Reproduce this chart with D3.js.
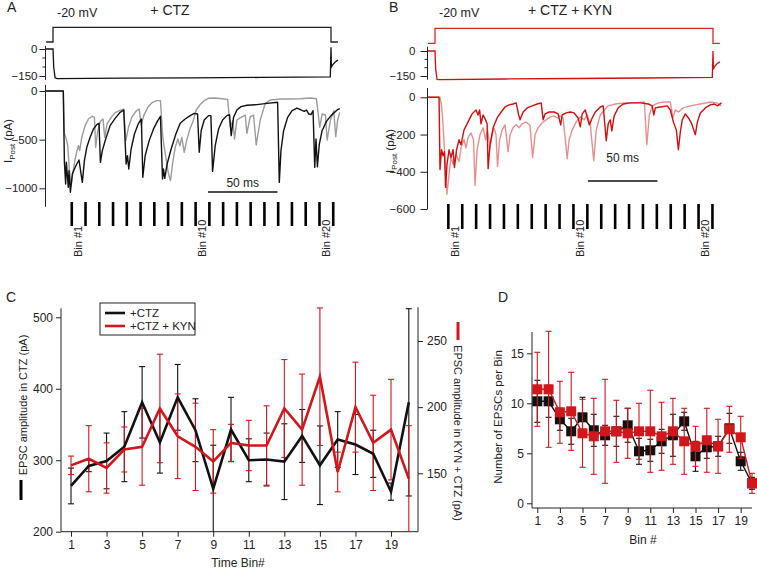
<!DOCTYPE html>
<html><head><meta charset="utf-8">
<script src="https://cdn.jsdelivr.net/npm/d3@7"></script>
<style>
body{margin:0;background:#fff}
text{font-family:"Liberation Sans",Arial,sans-serif;fill:#222}
</style>
</head><body>
<script>
// --- data ---------------------------------------------------------------

// voltage command (ms, mV)
var stepT = [-5, 0, 0, 200, 200, 205]
var stepV = [-80, -80, -20, -20, -80, -80]

// presynaptic current (ms, pA)
var preT = [-5, 0, 0.5, 1.5, 3, 50, 100, 150, 199.5, 200, 200.3, 201, 203, 205]
var preCTZ = [0, 0, -100, -160, -165, -162, -160, -158, -155, 10, -100, -90, -72, -62]
var preKYN = [0, 0, -110, -170, -172, -168, -165, -162, -158, 0, -110, -95, -75, -65]

// postsynaptic traces [ms, pA]
var ctzTrace1 = [[-5,0],[7.4,0],[8.2,-733],[9.1,-956],[9.6,-733],[11,-990],[11.5,-819],[12.5,-1041],[13.9,-853],[15.4,-802],[17.1,-750],[18.7,-709],[21.1,-939],[22.6,-716],[24.3,-579],[26.7,-476],[29.1,-390],[31.5,-346],[33.1,-332],[34.1,-733],[35.5,-613],[37.9,-493],[41.1,-356],[44.7,-281],[48.3,-219],[50.9,-195],[52.6,-750],[53.6,-665],[54.5,-802],[56.2,-596],[58.6,-442],[61.5,-332],[63.6,-288],[64.6,-887],[66.3,-665],[69.2,-510],[72.3,-390],[75.4,-305],[77.3,-260],[78.8,-904],[79.5,-802],[80.4,-898],[82.1,-750],[85,-596],[88.4,-442],[91.5,-332],[95.1,-288],[98.7,-253],[101.6,-230],[104,-236],[105.2,-630],[106.6,-408],[108.8,-298],[111.9,-253],[113.6,-253],[114.8,-826],[116.7,-562],[119.1,-391],[122,-298],[125.1,-253],[127,-243],[128.2,-459],[129.9,-271],[132.3,-195],[135.2,-161],[139.5,-147],[146.7,-140],[153.9,-127],[161.6,-116],[162.8,-939],[164,-613],[165.9,-408],[168.8,-271],[172,-202],[175.5,-175],[178.4,-195],[180.8,-209],[182.3,-195],[184,-236],[185.6,-243],[187.1,-202],[188.3,-785],[189.2,-493],[190.2,-778],[191.6,-545],[193.6,-408],[196.7,-312],[200,-253],[204.4,-195],[206.3,-182]]
var ctzTrace2 = [[-5,0],[7.4,0],[8.2,-442],[9.4,-483],[10.6,-562],[11.8,-819],[13,-973],[14.4,-836],[15.9,-699],[17.3,-613],[18.3,-562],[19.2,-613],[20.7,-476],[23.1,-356],[25.5,-288],[28.3,-260],[29.8,-271],[30.7,-579],[32.2,-408],[34.1,-312],[36,-288],[37.2,-476],[38.9,-339],[41.8,-271],[45.1,-219],[49,-195],[50.9,-188],[52.4,-510],[54.3,-373],[56.7,-271],[59.6,-209],[62,-185],[63.4,-356],[65.3,-253],[68.2,-168],[71.6,-116],[74.7,-99],[77.3,-99],[78.8,-442],[79.7,-545],[81.2,-682],[83.1,-853],[84.5,-921],[86,-750],[87.9,-579],[89.8,-493],[91.3,-562],[92.7,-476],[94.4,-630],[96.1,-510],[98.5,-391],[100.9,-305],[103,-195],[105.9,-140],[108.8,-99],[111.9,-75],[116.7,-72],[121.5,-79],[125.6,-86],[127.5,-367],[129.4,-305],[130.6,-493],[132.3,-298],[135.2,-271],[138.3,-247],[139.5,-435],[141.9,-264],[144.3,-247],[146.2,-555],[149.1,-298],[152.7,-127],[156.3,-93],[163.5,-82],[170.7,-82],[178,-79],[185.2,-72],[189.5,-79],[191.9,-373],[193.6,-236],[196,-247],[197.2,-504],[199.6,-298],[202,-202],[203.4,-469],[204.8,-298],[206.3,-219]]
var kynTrace1 = [[-5,0],[2.9,0],[3.6,-388],[4.7,-282],[5.8,-314],[6.8,-292],[7.6,-484],[8.6,-362],[10.1,-282],[11.5,-324],[13,-282],[14,-377],[15.5,-282],[17.3,-228],[18.7,-255],[20.9,-175],[23.8,-132],[26.7,-89],[29.5,-68],[31,-95],[32.1,-68],[33.1,-143],[34.6,-95],[36.4,-121],[37.5,-143],[38.2,-383],[39.6,-255],[41.8,-164],[44.7,-111],[47.6,-79],[50.4,-52],[53.3,-41],[56.2,-36],[58.4,-30],[60.2,-95],[61.2,-121],[63.4,-79],[66.3,-57],[69.9,-46],[73.5,-36],[76.4,-30],[77.8,-121],[79.2,-89],[82.1,-79],[85.7,-79],[88.6,-89],[90.4,-148],[91.5,-95],[94.4,-84],[97.3,-79],[100.1,-84],[103,-111],[104.5,-159],[105.9,-89],[108.1,-68],[111,-148],[113.1,-111],[115.3,-79],[118.9,-52],[121,-46],[123.2,-233],[124.6,-143],[126.1,-121],[127.2,-180],[128.9,-100],[131.8,-57],[135.4,-36],[140.5,-30],[147.7,-30],[153.5,-36],[156.3,-46],[157.4,-95],[158.5,-57],[162.1,-52],[167.1,-46],[169.3,-68],[171.5,-132],[173.6,-175],[175.1,-282],[176.5,-185],[177.9,-121],[180.1,-89],[182.3,-111],[184.4,-137],[187.3,-201],[188.8,-132],[190.9,-84],[194.5,-57],[198.1,-41],[201,-36],[203.2,-46],[206.1,-30]]
var kynTrace2 = [[-5,0],[3.6,0],[4.7,-41],[5.8,-148],[7.2,-335],[8.6,-521],[10.1,-414],[11.5,-324],[13.3,-362],[15.1,-308],[17.3,-345],[18.7,-271],[20.9,-228],[22.3,-271],[23.8,-217],[25.9,-191],[27.7,-228],[28.8,-474],[30.3,-282],[32.4,-201],[34.6,-164],[36.4,-228],[37.8,-175],[39.6,-271],[41.1,-201],[42.5,-164],[43.9,-201],[45,-372],[46.5,-228],[48.3,-175],[50.4,-148],[52.6,-292],[54,-201],[56.2,-164],[58.4,-148],[60.5,-164],[62.7,-143],[65.6,-132],[68.4,-153],[70.2,-324],[72,-201],[74.2,-164],[77.1,-137],[80,-121],[82.9,-105],[85.7,-100],[87.9,-111],[90.1,-100],[92.2,-111],[95.1,-330],[96.5,-228],[98.7,-175],[101.6,-132],[104.5,-105],[107.3,-121],[109.5,-95],[111.7,-143],[114.2,-340],[116,-175],[118.9,-95],[121.8,-68],[124.6,-46],[129.7,-36],[136.9,-30],[144.1,-30],[150.6,-25],[152.4,-255],[154.2,-95],[156.3,-46],[160.7,-30],[165.7,-25],[169.3,-25],[171.1,-111],[172.9,-68],[175.1,-79],[178.7,-57],[183.7,-46],[190.9,-36],[198.1,-25],[202.4,-30],[206.1,-46]]

// bin edges (ms)
var binEdgesA = [13.5, 23.4, 33.3, 43.2, 53.1, 63, 72.9, 82.8, 92.7, 102.6, 112.5, 122.4, 132.3, 142.2, 152.1, 162, 171.9, 181.8, 191.7, 201.6]
var binEdgesB = [9.6, 19.6, 29.6, 39.6, 49.6, 59.6, 69.6, 79.6, 89.6, 99.6, 109.6, 119.6, 129.6, 139.6, 149.6, 159.6, 169.6, 179.6, 189.6, 199.6]
var binLabels = ["Bin #1", "Bin #10", "Bin #20"]
var binLabelEdge = [0.5, 9.5, 18.5]

// panel C: EPSC amplitude per bin
var bins = [1,2,3,4,5,6,7,8,9,10,11,12,13,14,15,16,17,18,19,20]
var ampCTZ = [264, 292, 299, 319, 381, 325, 388, 342, 260, 343, 300, 301, 298, 334, 293, 329, 322, 309, 256, 381]
var ampCTZerr = [25, 8, 39, 49, 50, 43, 46, 44, 61, 45, 30, 37, 53, 37, 55, 39, 42, 33, 12, 131]
var ampKYN = [156, 161, 154, 168, 170, 199, 178, 170, 159, 173, 171, 171, 199, 183, 223, 151, 200, 173, 183, 146]
var ampKYNerr = [7, 25, 19, 17, 29, 41, 32, 33, 24, 14, 19, 30, 37, 42, 52, 15, 34, 36, 38, 40]
var ampTicksL = [200, 300, 400, 500]
var ampTicksR = [150, 200, 250]

// panel D: number of EPSCs per bin
var numCTZ = [10.2, 10.2, 8.4, 7.2, 8.6, 7.3, 6.8, 7.2, 7.8, 5.2, 5.3, 6.2, 6.8, 8.2, 4.7, 5.6, 5.7, 7.5, 4.2, 2.0]
var numCTZerr = [2.1, 1.6, 1.1, 1.3, 2.0, 1.6, 1.0, 1.5, 1.7, 1.3, 1.1, 1.2, 2.1, 0.9, 1.5, 1.1, 1.0, 1.5, 0.9, 0.6]
var numKYN = [11.4, 11.4, 9.1, 9.2, 7.0, 6.7, 7.2, 7.2, 7.0, 7.2, 7.2, 6.7, 7.2, 6.2, 5.7, 6.3, 5.7, 7.4, 6.6, 2.0]
var numKYNerr = [3.7, 5.8, 3.1, 3.9, 3.4, 3.8, 5.2, 3.1, 2.5, 2.8, 4.1, 3.4, 3.3, 3.3, 2.0, 3.2, 2.7, 2.3, 2.1, 1.0]
var numTicks = [0, 5, 10, 15]
var oddBins = [1,3,5,7,9,11,13,15,17,19]

var black = "#111", gray = "#9b9b9b", red = "#d2171c", darkRed = "#d40d0d", pink = "#ea8f8f"

// --- canvas -------------------------------------------------------------
var svg = d3.select("body").append("svg").attr("width", 757).attr("height", 569)
svg.append("rect").attr("width", 757).attr("height", 569).attr("fill", "#fff")

function label(x, y, s, size, anchor, rot) {
	var t = svg.append("text").attr("x", x).attr("y", y).attr("font-size", size)
		.attr("text-anchor", anchor || "start").text(s)
	if (rot) t.attr("transform", "rotate(" + rot + "," + x + "," + y + ")")
	return t
}

function styleAxis(g, size) {
	g.select(".domain").remove()
	g.selectAll("line").attr("stroke", "#222").attr("stroke-width", 1)
	g.selectAll("text").attr("font-size", size).style("font-family", '"Liberation Sans",Arial,sans-serif').attr("fill", "#222")
}

// --- panels A & B : traces ----------------------------------------------
function tracePanel(p) {
	var x = d3.scaleLinear().domain([0, 200]).range([p.x0, p.x0 + 278])
	var yv = d3.scaleLinear().domain([-80, -20]).range(p.vRange)
	var yp = d3.scaleLinear().domain([0, -150]).range(p.preRange)
	var yi = d3.scaleLinear().domain([0, p.iMin]).range(p.iRange)

	label(p.x0 - 46, 12, p.letter, 14)
	label(p.x0 + 4, 17, "-20 mV", 12.5)
	label(p.titleX, 15, p.title, 14, "middle")

	// command step
	svg.append("path").datum(d3.zip(stepT, stepV))
		.attr("d", d3.line().x(d => x(d[0])).y(d => yv(d[1])))
		.attr("fill", "none").attr("stroke", p.stepColor).attr("stroke-width", 1.3)

	// presynaptic current
	var axX = p.x0 - 7.5
	svg.append("line").attr("x1", axX).attr("x2", axX)
		.attr("y1", yp(p.preTop)).attr("y2", yp(-172)).attr("stroke", "#222")
	var ga = svg.append("g").attr("transform", "translate(" + axX + ",0)")
		.call(d3.axisLeft(yp).tickValues([0, -150]).tickSize(p.tick).tickPadding(p.pad).tickFormat(d3.format("d")))
	styleAxis(ga, 11.5)
	svg.selectAll(null).data([-50, -100]).enter().append("line")
		.attr("x1", axX - 3).attr("x2", axX).attr("y1", d => yp(d)).attr("y2", d => yp(d)).attr("stroke", "#222")
	svg.append("path").datum(d3.zip(preT, p.pre))
		.attr("d", d3.line().x(d => x(d[0])).y(d => yp(d[1])))
		.attr("fill", "none").attr("stroke", p.c1).attr("stroke-width", 1.3)

	// postsynaptic current
	svg.append("line").attr("x1", axX).attr("x2", axX)
		.attr("y1", yi(p.iTop)).attr("y2", yi(p.iBottom)).attr("stroke", "#222")
	var gi = svg.append("g").attr("transform", "translate(" + axX + ",0)")
		.call(d3.axisLeft(yi).tickValues(p.iTicks).tickSize(p.tick).tickPadding(p.pad).tickFormat(d3.format("d")))
	styleAxis(gi, 11.5)
	var yl = label(p.x0 - 41, p.ylabY, "", 11.5, "middle", -90)
	yl.append("tspan").text("I")
	yl.append("tspan").attr("font-size", 8).attr("dy", 3).text("Post")
	yl.append("tspan").attr("dy", -3).text(" (pA)")

	var line = d3.line().x(d => x(d[0])).y(d => yi(d[1]))
	svg.append("path").datum(p.tr2).attr("d", line)
		.attr("fill", "none").attr("stroke", p.c2).attr("stroke-width", 1.4).attr("stroke-linejoin", "round")
	svg.append("path").datum(p.tr1).attr("d", line)
		.attr("fill", "none").attr("stroke", p.c1).attr("stroke-width", 1.4).attr("stroke-linejoin", "round")

	// 50 ms scale bar
	svg.append("line").attr("x1", x(p.barT)).attr("x2", x(p.barT + 50))
		.attr("y1", p.barY).attr("y2", p.barY).attr("stroke", "#111").attr("stroke-width", 1.3)
	label(x(p.barT + 25), p.barLabY, "50 ms", 12, "middle")

	// bin edges
	svg.selectAll(null).data(p.edges).enter().append("line")
		.attr("x1", d => x(d)).attr("x2", d => x(d))
		.attr("y1", p.tickY[0]).attr("y2", p.tickY[1])
		.attr("stroke", "#000").attr("stroke-width", 2.6)
	var w = p.edges[1] - p.edges[0]
	binLabels.forEach(function (s, i) {
		var bx = x(p.edges[0] + binLabelEdge[i] * w) + 3.5
		label(bx, 257, s, 11, "start", -90)
	})
}

tracePanel({x0: 53, letter: "A", title: "+ CTZ", titleX: 170, stepColor: "#222",
	vRange: [42, 27.3], preRange: [49, 76], preTop: 17, pre: preCTZ,
	iMin: -1000, iRange: [91, 188.3], iTop: 62, iBottom: -1190, iTicks: [0, -500, -1000],
	tick: 6, pad: 2, ylabY: 141, c1: black, c2: gray, tr1: ctzTrace1, tr2: ctzTrace2,
	barT: 111.5, barY: 192, barLabY: 187, edges: binEdgesA, tickY: [202, 226]})

tracePanel({x0: 435, letter: "B", title: "+ CTZ + KYN", titleX: 570, stepColor: "#d42a2a",
	vRange: [43.3, 28.3], preRange: [51, 76], preTop: 26, pre: preKYN,
	iMin: -600, iRange: [97.3, 209], iTop: 50, iBottom: -600, iTicks: [0, -200, -400, -600],
	tick: 7, pad: 5, ylabY: 151, c1: darkRed, c2: pink, tr1: kynTrace1, tr2: kynTrace2,
	barT: 110, barY: 181, barLabY: 162, edges: binEdgesB, tickY: [204, 229]})

// --- panel C ------------------------------------------------------------
var cx = d3.scaleLinear().domain([1, 20]).range([71, 408.8])
var cyL = d3.scaleLinear().domain([200, 500]).range([531.7, 317.3])
var cyR = d3.scaleLinear().domain([150, 250]).range([473.3, 341])

label(6, 302, "C", 14)
svg.append("line").attr("x1", 61).attr("x2", 61).attr("y1", cyL(512.5)).attr("y2", cyL(200)).attr("stroke", "#222")
svg.append("line").attr("x1", 61).attr("x2", 418).attr("y1", 531.7).attr("y2", 531.7).attr("stroke", "#222")
svg.append("line").attr("x1", 418).attr("x2", 418).attr("y1", cyR(275.5)).attr("y2", 531.7).attr("stroke", "#222")
styleAxis(svg.append("g").attr("transform", "translate(61,0)")
	.call(d3.axisLeft(cyL).tickValues(ampTicksL).tickSize(5).tickPadding(3)), 12)
styleAxis(svg.append("g").attr("transform", "translate(418,0)")
	.call(d3.axisRight(cyR).tickValues(ampTicksR).tickSize(5).tickPadding(4)), 12)
styleAxis(svg.append("g").attr("transform", "translate(0,531.7)")
	.call(d3.axisBottom(cx).tickValues(oddBins).tickSize(5).tickPadding(4)), 12)

label(238, 567, "Time Bin#", 12, "middle")
label(27, 405, "EPSC amplitude in CTZ (pA)", 11, "middle", -90)
svg.append("line").attr("x1", 21).attr("x2", 21).attr("y1", 480).attr("y2", 500).attr("stroke", "#000").attr("stroke-width", 3)
label(454, 433, "EPSC amplitude in KYN + CTZ (pA)", 11, "middle", 90)
svg.append("line").attr("x1", 458).attr("x2", 458).attr("y1", 322).attr("y2", 340).attr("stroke", red).attr("stroke-width", 3)

function errBars(xs, ys, vals, errs, lo, hi, color, capW) {
	var g = svg.append("g").attr("stroke", color).attr("stroke-width", 1.1)
	bins.forEach(function (b, i) {
		var top = Math.min(vals[i] + errs[i], hi), bot = Math.max(vals[i] - errs[i], lo)
		var x = xs(b)
		g.append("line").attr("x1", x).attr("x2", x).attr("y1", ys(top)).attr("y2", ys(bot))
		if (vals[i] + errs[i] <= hi) g.append("line").attr("x1", x - capW).attr("x2", x + capW).attr("y1", ys(top)).attr("y2", ys(top))
		if (vals[i] - errs[i] >= lo) g.append("line").attr("x1", x - capW).attr("x2", x + capW).attr("y1", ys(bot)).attr("y2", ys(bot))
	})
}

errBars(cx, cyL, ampCTZ, ampCTZerr, 200, 515, black, 3)
errBars(cx, cyR, ampKYN, ampKYNerr, 105.6, 276, red, 3)
svg.append("path").datum(bins)
	.attr("d", d3.line().x(d => cx(d)).y((d, i) => cyL(ampCTZ[i])))
	.attr("fill", "none").attr("stroke", black).attr("stroke-width", 2.6)
svg.append("path").datum(bins)
	.attr("d", d3.line().x(d => cx(d)).y((d, i) => cyR(ampKYN[i])))
	.attr("fill", "none").attr("stroke", red).attr("stroke-width", 2.6)

// legend
svg.append("rect").attr("x", 100).attr("y", 303).attr("width", 95).attr("height", 32)
	.attr("fill", "#fff").attr("stroke", "#222").attr("stroke-width", 1)
var legend = [["+CTZ", black], ["+CTZ + KYN", red]]
legend.forEach(function (d, i) {
	var ly = 313 + i * 13
	svg.append("line").attr("x1", 105).attr("x2", 125).attr("y1", ly).attr("y2", ly).attr("stroke", d[1]).attr("stroke-width", 2.6)
	label(130, ly + 4, d[0], 11.5)
})

// --- panel D ------------------------------------------------------------
var dx = d3.scaleLinear().domain([1, 20]).range([537.3, 752])
var dy = d3.scaleLinear().domain([0, 15]).range([503.3, 353.3])

label(498, 302, "D", 14)
svg.append("line").attr("x1", 532).attr("x2", 532).attr("y1", 332).attr("y2", 508).attr("stroke", "#222")
svg.append("line").attr("x1", 532).attr("x2", 752).attr("y1", 508).attr("y2", 508).attr("stroke", "#222")
styleAxis(svg.append("g").attr("transform", "translate(532,0)")
	.call(d3.axisLeft(dy).tickValues(numTicks).tickSize(5).tickPadding(3)), 12)
styleAxis(svg.append("g").attr("transform", "translate(0,508)")
	.call(d3.axisBottom(dx).tickValues(oddBins).tickSize(5).tickPadding(3)), 12)
label(643, 544, "Bin #", 12, "middle")
label(502, 417, "Number of EPSCs per Bin", 11.5, "middle", -90)

function squares(vals, errs, color) {
	errBars(dx, dy, vals, errs, -1, 30, color, 3)
	svg.append("path").datum(bins)
		.attr("d", d3.line().x(d => dx(d)).y((d, i) => dy(vals[i])))
		.attr("fill", "none").attr("stroke", color).attr("stroke-width", 1.4)
	svg.selectAll(null).data(bins).enter().append("rect")
		.attr("x", d => dx(d) - 5).attr("y", (d, i) => dy(vals[i]) - 5)
		.attr("width", 10).attr("height", 10).attr("fill", color)
}
squares(numCTZ, numCTZerr, black)
squares(numKYN, numKYNerr, red)
</script>
</body></html>
